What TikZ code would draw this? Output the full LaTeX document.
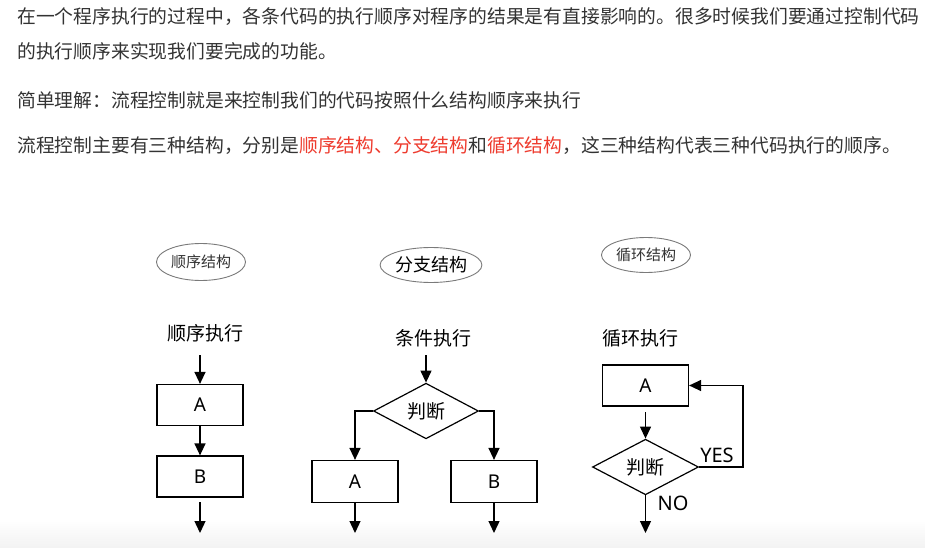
\documentclass[tikz,border=0pt]{standalone}
\usepackage{fontspec}
\setmainfont{Noto Sans CJK SC}
\newfontfamily\latinf{Noto Sans}
\usetikzlibrary{shapes.geometric,arrows.meta}
\definecolor{txt}{HTML}{333333}
\definecolor{hl}{HTML}{EE3B2E}
\definecolor{ellc}{HTML}{7A7A7A}
\begin{document}
\begin{tikzpicture}[x=1pt,y=-1pt,
  para/.style={anchor=west,inner sep=0pt,text=txt,font=\fontsize{18.8}{20}\selectfont},
  ell/.style={draw=ellc,line width=0.9pt,ellipse,minimum width=89pt,minimum height=37pt,inner sep=0pt},
  lbl/.style={inner sep=0pt,font=\fontsize{19}{19}\selectfont},
  latlbl/.style={inner sep=0pt,font=\latinf\fontsize{20}{20}\selectfont},
  box/.style={draw,line width=1.2pt,minimum width=86pt,minimum height=41pt,inner sep=0pt,font=\latinf\fontsize{19}{19}\selectfont},
  dia/.style={draw,line width=1.2pt,diamond,minimum width=105pt,minimum height=48pt,inner sep=0pt,font=\fontsize{19}{19}\selectfont},
  arr/.style={-{Triangle[width=11pt,length=12pt]},line width=1.3pt}
]
\useasboundingbox (0,0) rectangle (925,548);
\fill[white] (0,0) rectangle (925,548);
\shade[top color=white,bottom color=gray!10] (0,520) rectangle (925,548);

% paragraph text
\node[para] (l1) at (17,17) {在一个程序执行的过程中，各条代码的执行顺序对程序的结果是有直接影响的。很多时候我们要通过控制代码};
\node[para] (l2) at (17,51) {的执行顺序来实现我们要完成的功能。};
\node[para] (l3) at (17,100) {简单理解：流程控制就是来控制我们的代码按照什么结构顺序来执行};
\node[para] (l4) at (17,146) {流程控制主要有三种结构，分别是\textcolor{hl}{顺序结构、分支结构}和\textcolor{hl}{循环结构}，这三种结构代表三种代码执行的顺序。};

% titles
\node[ell,font=\fontsize{15}{15}\selectfont,text=txt] (e1) at (201,262) {顺序结构};
\node[ell,minimum height=35pt,font=\fontsize{18}{18}\selectfont] (e2) at (431,265) {分支结构};
\node[ell,minimum height=35pt,font=\fontsize{15}{15}\selectfont,text=txt] (e3) at (646,255) {循环结构};

\node[lbl] (t1) at (205,333) {顺序执行};
\node[lbl] (t2) at (433,338) {条件执行};
\node[lbl] (t3) at (640,338) {循环执行};

% sequence
\node[box] (a1) at (200,405) {A};
\node[box] (b1) at (200,476.5) {B};
\coordinate (s1) at (200,355);
\coordinate (o1s) at (200,502);
\coordinate (o1e) at (200,533);
\draw[arr] (s1) -- (a1);
\draw[arr] (a1) -- (b1);
\draw[arr] (o1s) -- (o1e);

% branch
\node[dia] (d2) at (426,411) {判断};
\node[box,minimum height=42pt] (a2) at (355,481.5) {A};
\node[box,minimum height=42pt] (b2) at (494,481.5) {B};
\coordinate (s2) at (426,355);
\coordinate (o2a) at (355,533);
\coordinate (o2b) at (494,533);
\draw[arr] (s2) -- (d2);
\draw[arr] (d2.west) -| (a2);
\draw[arr] (d2.east) -| (b2);
\draw[arr] (a2) -- (o2a);
\draw[arr] (b2) -- (o2b);

% loop
\node[box] (a3) at (645.5,385.5) {A};
\node[dia,minimum height=50pt,minimum width=106pt] (d3) at (645.5,467) {判断};
\coordinate (s3) at (645.5,412);
\coordinate (y3) at (743,385.5);
\coordinate (o3) at (645.5,533);
\draw[arr] (s3) -- (d3);
\draw[arr] (d3.east) -| (y3) -- (a3);
\draw[arr] (d3) -- (o3);
\node[latlbl] (yes) at (717,455) {YES};
\node[latlbl] (no) at (673,503) {NO};
\end{tikzpicture}
\end{document}
